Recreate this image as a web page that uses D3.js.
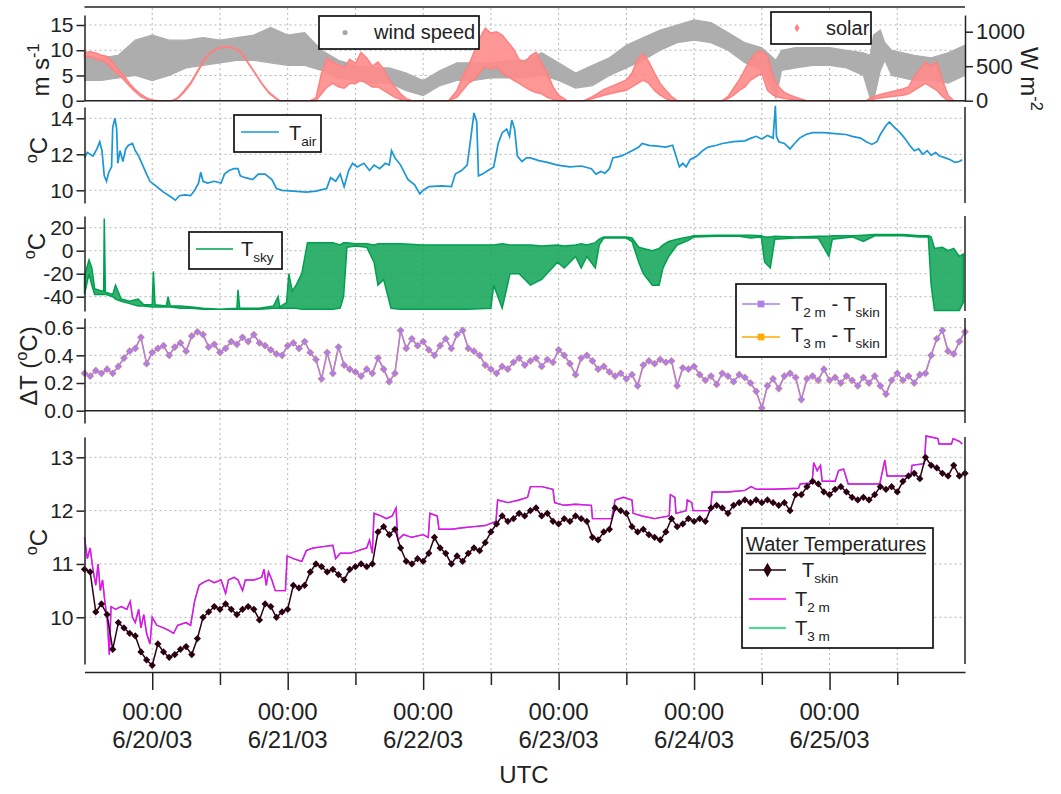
<!DOCTYPE html>
<html><head><meta charset="utf-8">
<script src="https://cdn.jsdelivr.net/npm/d3@7"></script>
<style>
body{margin:0;background:#fff;}
svg{display:block;font-family:"Liberation Sans",Arial,sans-serif;}
</style></head><body>
<svg id="c" width="1061" height="794"></svg>
<script>
// ---------- DATA (time in hours after 2003-06-19 12:00 UTC) ----------
const windT  = [0,3,6,9,12,15,18,21,24,27,30,33,36,39,42,45,48,51,54,57,60,63,66,69,72,75,78,81,84,87,90,93,96,99,102,105,108,111,114,117,120,121.5,122.5,123.5,126,129,132,135,138,139.2,139.8,141,141.8,143,147,150,153,156];
const windLo = [4,4,4.5,5,4,5,6.5,7,7.5,8,8,7.5,7,7,6,4.5,4,3.5,3.5,2,1,3,4,4,4.5,4.5,4.5,5,4,2.5,3,5,6.5,8,10,11.5,12,11.5,10,7.5,6,3,0.5,6,6.5,7,7,6.5,5,0.5,0,6,8,5,4,4,3.5,5];
const windHi = [9,8.5,9,12,13,12,12,12.5,12,12.5,13,14.5,13,13.5,10,8,7,6.5,6.5,5.5,4,6,7.5,7.5,7.5,8,8,9.5,7.5,5.5,7,8.5,11,12.5,14,15,16,15.5,13.5,11.5,10.5,9,8,10,10.5,10.5,10.5,10,9.5,9,13,14,11.5,10,9,8.5,9.5,11];

const solarT  = [0,1,2,3,4,5,6,7,8,9,10,11,12,13, 15.5,16.5,17.6,18.8,20,21.2,22.4,23.6,25,26.6,27.8,29,30.2,31.4,32.7,33.9,34.6, 40,41,42,43,44,45,46,47,48,49,50,51,52,53,54,55,56,57,58, 64.5,66,67,68,69,70,71,72,73,74,75,76,77,78,79,80,81,82,83,84,85.5, 88.5,90,92,94,96,97,98,99,100,101,102,103,104,105, 113,114,115,116,117,118,119,120,121,122,123,124,125,126,127,128, 138.5,139.5,141,143,145,146,147,148,149,150,151,152,153,154,156];
const solarLo = [620,640,600,580,540,450,380,300,210,130,60,20,0,0, 0,30,120,240,410,580,700,755,778,755,690,540,395,245,110,30,0, 0,0,100,200,250,200,180,250,250,300,250,200,200,150,100,50,20,0,0, 0,50,150,250,300,400,500,450,500,400,350,300,250,200,150,120,100,50,20,0,0, 0,30,80,120,150,200,250,300,250,150,80,30,0,0, 0,30,80,150,200,300,350,400,150,80,50,30,20,10,0,0, 0,20,40,60,80,100,150,200,250,200,150,60,0,0,0];
const solarHi = [700,710,690,660,640,560,450,360,250,160,90,40,10,0, 0,40,140,260,430,600,710,765,785,765,700,550,405,255,120,40,0, 0,40,400,620,560,520,480,600,540,700,620,500,560,460,300,200,100,30,0, 0,150,350,500,700,900,1050,980,1000,950,850,750,600,550,650,700,550,400,200,80,0, 0,60,160,230,300,400,600,680,560,400,250,150,60,0, 0,60,180,300,450,600,700,720,650,350,200,120,80,50,20,0, 0,50,90,130,170,200,350,450,560,500,560,300,80,0,0];

const airT = [0,0.5,1.5,2.2,2.7,3.1,3.5,3.9,4.3,4.8,5.0,5.4,5.7,5.9,6.3,6.8,7.3,7.8,8.5,9.0,9.6,10.3,11.0,11.6,12.4,13.2,14.0,15.0,16.1,16.8,17.8,18.8,19.5,20.2,20.6,21.0,21.8,23.0,24.2,24.8,25.6,26.5,27.2,27.6,28.5,29.8,30.8,32.0,33.2,34.0,35.0,37.0,39.3,41.0,42.9,43.6,44.5,45.3,46.0,46.8,47.5,48.3,49.5,50.5,51.3,52.3,53.3,54.0,54.4,55.0,56.0,57.3,58.5,59.4,60.0,61.0,63.3,65.0,65.7,66.8,67.8,68.4,69.0,69.5,69.8,70.5,71.5,72.5,73.3,74.0,74.8,75.3,75.7,76.2,76.7,77.5,78.3,79.0,80.5,82.0,83.8,86.0,88.0,89.8,90.6,91.5,92.2,93.0,93.6,95.0,95.8,97.0,98.2,98.8,100.0,101.5,103.0,104.2,104.8,105.4,106.0,106.6,107.3,108.5,109.5,110.5,112.0,113.0,115.0,117.0,118.1,119.0,120.0,121.0,122.0,122.4,122.6,123.0,124.0,125.0,125.8,126.7,127.8,129.0,131.0,133.0,134.9,136.0,137.5,138.5,139.5,140.4,141.0,142.0,142.6,143.5,144.5,145.3,146.2,147.0,147.8,148.5,149.3,150.0,150.8,151.5,152.5,153.4,154.2,155.0,155.5];
const airV = [11.8,12.1,11.9,12.3,12.7,12.2,10.8,10.5,11.0,11.3,13.5,14.0,13.4,11.5,12.2,11.6,12.3,12.5,12.6,12.2,11.9,11.4,10.9,10.5,10.3,10.1,9.9,9.7,9.45,9.7,9.75,9.7,10.0,10.4,11.0,10.5,10.4,10.5,10.4,10.9,11.1,11.2,11.2,10.8,10.7,10.6,10.9,10.9,10.6,10.1,10.0,9.95,9.9,9.95,10.1,10.7,10.5,10.9,10.2,11.1,11.5,11.3,11.5,11.1,11.4,11.2,11.5,11.4,12.2,11.8,11.4,10.6,10.3,9.8,10.0,10.2,10.25,10.2,10.9,11.1,11.4,12.8,14.3,13.8,10.8,10.9,11.1,11.3,12.6,13.2,13.4,13.0,13.9,13.4,11.9,11.6,11.8,11.8,11.65,11.55,11.4,11.3,11.35,11.2,10.9,11.05,10.95,11.2,11.8,11.9,12.0,12.2,12.4,12.6,12.5,12.45,12.4,12.5,11.9,11.3,11.5,11.3,11.7,11.9,12.2,12.4,12.5,12.6,12.7,12.75,12.9,13.0,12.85,13.05,12.9,14.7,13.0,12.7,12.6,12.3,12.6,12.9,13.1,13.2,13.2,13.15,13.1,13.0,12.9,12.7,12.55,12.7,13.1,13.6,13.8,13.5,13.2,12.9,12.5,12.2,12.3,12.0,12.2,11.95,12.1,11.9,11.8,11.7,11.55,11.6,11.7];

const skyT  = [0,0.8,1.3,1.8,3.0,3.4,3.5,3.7,5.0,5.5,6.5,8,9.5,10.5,12,12.2,12.5,14.5,14.8,15.2,17,19,21,24,27,27.2,27.5,31,33.5,34.3,34.6,35.8,36.2,36.8,37.5,38.5,39.5,42,44,45.3,45.9,46.5,48,50,51.3,52,53,54.3,56,60,64,68,72,72.5,74,75.4,77,79,81,83.8,85,87,88,89,90.5,91.2,92,96,97,98.2,99,100.6,101.8,102.5,103.5,105,107,108,112,116,118,119.9,120.5,121.5,122.3,126,130,131.9,132.5,136,138,140,145,148,149.5,150,150.6,152,153,154,155,155.7];
const skyLo = [-38,-20,-30,-38,-38,-38,-38,-38,-40,-42,-44,-46,-48,-48,-49,-49,-49,-49,-49,-49,-50,-50,-51,-51,-51,-51,-51,-51,-50,-50,-50,-50,-50,-50,-50,-51,-51,-51,-51,-50,-40,3,4,3,-10,-30,-25,-50,-51,-51,-51,-51,-50,-30,-50,-20,-20,-30,-25,-10,-15,-5,-15,-5,-15,5,11,11,8,-10,-20,-30,-30,-15,-5,5,9,12,12.5,12.5,11,12,-10,-15,10,11,11,-5,10,12,8,13,13,12,12,-30,-52,-52,-52,-52,-52,-45];
const skyHi = [-22,-8,-15,-33,-35,-35,28,-36,-38,-30,-42,-44,-42,-47,-47,-18,-47,-48,-40,-48,-48,-49,-50,-51,-50,-34,-50,-50,-48,-40,-49,-45,-20,-35,-30,-20,7,7,7,5,7,7,6,6,5,6,6,6,6,5,5,5,5,5,6,5,5,5,4,5,4,5,6,5,7,10,12,12,11,3,2,0,2,5,8,10,12,13,13.5,13.5,13.5,13,12,12,12.5,12,12.5,12.5,13,13,13.5,14,14,13,13,12,2,3,0,2,-5,-3];

// hourly series (hour 0 .. 156)
const dT2m = [0.27,0.25,0.29,0.27,0.30,0.27,0.32,0.38,0.43,0.45, 0.53,0.34,0.42,0.45,0.47,0.40,0.46,0.49,0.43,0.54, 0.57,0.55,0.46,0.48,0.42,0.45,0.50,0.48,0.53,0.50, 0.55,0.49,0.47,0.44,0.41,0.40,0.47,0.49,0.45,0.50, 0.42,0.37,0.23,0.42,0.27,0.46,0.33,0.30,0.28,0.25, 0.30,0.27,0.38,0.30,0.21,0.27,0.58,0.45,0.52,0.47, 0.50,0.44,0.40,0.47,0.52,0.45,0.55,0.58,0.45,0.43, 0.40,0.33,0.30,0.27,0.32,0.30,0.35,0.38,0.33,0.36, 0.38,0.32,0.37,0.35,0.44,0.40,0.34,0.26,0.38,0.40, 0.36,0.30,0.32,0.28,0.25,0.27,0.23,0.26,0.18,0.33, 0.36,0.34,0.37,0.35,0.36,0.18,0.31,0.30,0.32,0.26, 0.22,0.25,0.19,0.27,0.25,0.21,0.26,0.24,0.20,0.14, 0.02,0.18,0.23,0.16,0.25,0.27,0.24,0.08,0.23,0.25, 0.22,0.30,0.22,0.24,0.20,0.25,0.22,0.18,0.24,0.20, 0.25,0.18,0.12,0.22,0.27,0.22,0.25,0.20,0.26,0.27, 0.40,0.52,0.58,0.43,0.41,0.50,0.57];
const dT3m = [0.27,0.25,0.29,0.27,0.30,0.27,0.32,0.38,0.43,0.45, 0.53,0.34,0.42,0.45,0.47,0.40,0.46,0.49,0.43,0.54, 0.57,0.55,0.46,0.48,0.42,0.45,0.50,0.48,0.53,0.50, 0.55,0.49,0.47,0.44,0.41,0.40,0.47,0.49,0.45,0.50, 0.42,0.37,0.23,0.42,0.27,0.46,0.33,0.30,0.28,0.25, 0.30,0.27,0.38,0.30,0.21,0.27,0.58,0.45,0.52,0.47, 0.50,0.44,0.40,0.47,0.52,0.45,0.55,0.58,0.45,0.43, 0.40,0.33,0.30,0.27,0.32,0.30,0.35,0.38,0.33,0.36, 0.38,0.32,0.37,0.35,0.44,0.40,0.34,0.26,0.38,0.40, 0.36,0.30,0.32,0.28,0.25,0.27,0.23,0.26,0.18,0.33, 0.36,0.34,0.37,0.35,0.36,0.18,0.31,0.30,0.32,0.26, 0.22,0.25,0.19,0.27,0.25,0.21,0.26,0.24,0.20,0.14, 0.02,0.18,0.23,0.16,0.25,0.27,0.24,0.08,0.23,0.25, 0.22,0.30,0.22,0.24,0.20,0.25,0.22,0.18,0.24,0.20, 0.25,0.18,0.12,0.22,0.27,0.22,0.25,0.20,0.26,0.27, 0.40,0.52,0.58,0.43,0.41,0.50,0.57];
const skinV = [10.9,10.85,10.1,10.25,10.05,9.4,9.9,9.8,9.7,9.65, 9.35,9.2,9.1,9.5,9.35,9.25,9.3,9.4,9.45,9.3, 9.6,10.0,10.1,10.2,10.15,10.25,10.15,10.05,10.15,10.2, 10.15,9.95,10.25,10.2,10.0,10.1,10.15,10.6,10.55,10.6, 10.85,11.0,10.95,10.85,10.9,10.8,10.7,10.9,10.95,11.0, 10.95,11.0,11.6,11.7,11.55,11.65,11.3,11.05,11.0,11.1, 11.05,11.2,11.5,11.3,11.2,11.0,11.15,11.05,11.2,11.3, 11.25,11.4,11.6,11.75,11.9,11.8,11.85,11.95,11.9,12.0, 12.05,11.9,11.95,11.8,11.75,11.85,11.8,11.9,11.85,11.8, 11.5,11.45,11.6,11.65,12.05,12.0,11.95,11.7,11.6,11.65, 11.55,11.5,11.45,11.6,11.85,11.7,11.75,11.85,11.8,11.85, 11.8,12.05,12.1,12.05,11.95,12.1,12.15,12.2,12.15,12.2, 12.15,12.2,12.15,12.1,12.15,12.0,12.3,12.3,12.45,12.55, 12.5,12.35,12.3,12.4,12.45,12.35,12.25,12.2,12.25,12.2, 12.3,12.45,12.4,12.45,12.35,12.55,12.65,12.7,12.6,13.0, 12.85,12.8,12.7,12.65,12.85,12.65,12.7];

const t2T = [0,0.5,1,1.5,2,2.4,2.8,3.2,3.6,4.0,4.4,4.7,5.5,6.5,7.5,8.1,8.5,9.0,9.6,10.0,10.5,11.0,11.6,12.0,12.8,14,15,15.8,16.5,18,18.8,19.5,20.3,21,22,23,24.2,25,25.5,26.5,27.2,28,28.5,30,31.4,31.8,32.2,32.6,33.2,33.8,35.6,35.9,37,38.5,39.3,40.5,42,44,44.5,45.3,47,48.5,50,50.5,51.0,51.3,52.5,53.5,54.5,55.2,55.5,56.5,58,60,60.9,61.2,62.5,62.8,65,67,69,71,72.9,73.2,75,77,78.5,79,81,83,83.3,85,87,89.8,90,93.4,94,95.5,97,97.2,98.8,101,103.6,103.8,104.6,104.8,106.6,106.8,107.6,107.8,110.9,111.2,114,117,118.1,119,122,126.5,126.8,128.9,129.2,129.8,130.4,130.7,133,133.6,134.5,135.3,138,140.9,141.2,141.8,142.2,144,146.4,146.6,148.8,149.1,151.2,151.4,153.6,153.9,155,155.5];
const t2V = [11.5,11.1,11.3,10.9,10.6,11.0,10.5,10.7,10.3,10.0,9.3,10.2,10.15,10.2,10.15,10.3,10.0,9.9,10.15,9.8,10.05,9.7,9.5,10.0,9.85,9.8,9.75,9.7,9.85,9.9,9.85,10.3,10.6,10.65,10.7,10.65,10.7,10.45,10.7,10.75,10.7,10.5,10.7,10.7,10.75,10.9,10.6,10.85,10.7,10.5,10.5,11.15,11.1,11.05,11.25,11.3,11.32,11.35,11.1,11.2,11.2,11.25,11.3,11.45,11.2,11.95,11.9,11.85,11.9,12.05,11.45,11.55,11.5,11.55,11.5,11.95,11.9,11.65,11.65,11.68,11.7,11.72,11.8,12.2,12.15,12.2,12.25,12.45,12.45,12.4,12.15,12.1,12.12,12.1,11.85,11.85,12.2,12.25,12.2,11.95,11.9,11.85,11.9,12.3,12.25,11.95,12.0,12.2,12.15,12.0,12.0,12.35,12.35,12.38,12.45,12.4,12.4,12.42,12.5,12.52,12.9,12.75,12.85,12.55,12.55,12.75,12.78,12.5,12.5,12.5,12.65,12.95,12.65,12.65,12.65,12.85,12.88,13.4,13.35,13.25,13.25,13.35,13.3,13.25];
const t3T = [0,0.5,1,1.5,2,2.4,2.8,3.2,3.6,4.0,4.4,4.7,5.5,6.5,7.5,8.1,8.5,9.0,9.6,10.0,10.5,11.0,11.6,12.0,12.8,14,15,15.8,16.5,18,18.8,19.5,20.3,21,22,23,24.2,25,25.5,26.5,27.2,28,28.5,30,31.4,31.8,32.2,32.6,33.2,33.8,35.6,35.9,37,38.5,39.3,40.5,42,44,44.5,45.3,47,48.5,50,50.5,51.0,51.3,52.5,53.5,54.5,55.2,55.5,56.5,58,60,60.9,61.2,62.5,62.8,65,67,69,71,72.9,73.2,75,77,78.5,79,81,83,83.3,85,87,89.8,90,93.4,94,95.5,97,97.2,98.8,101,103.6,103.8,104.6,104.8,106.6,106.8,107.6,107.8,110.9,111.2,114,117,118.1,119,122,126.5,126.8,128.9,129.2,129.8,130.4,130.7,133,133.6,134.5,135.3,138,140.9,141.2,141.8,142.2,144,146.4,146.6,148.8,149.1,151.2,151.4,153.6,153.9,155,155.5];
const t3V = [11.5,11.1,11.3,10.9,10.6,11.0,10.5,10.7,10.3,10.0,9.3,10.2,10.15,10.2,10.15,10.3,10.0,9.9,10.15,9.8,10.05,9.7,9.5,10.0,9.85,9.8,9.75,9.7,9.85,9.9,9.85,10.3,10.6,10.65,10.7,10.65,10.7,10.45,10.7,10.75,10.7,10.5,10.7,10.7,10.75,10.9,10.6,10.85,10.7,10.5,10.5,11.15,11.1,11.05,11.25,11.3,11.32,11.35,11.1,11.2,11.2,11.25,11.3,11.45,11.2,11.95,11.9,11.85,11.9,12.05,11.45,11.55,11.5,11.55,11.5,11.95,11.9,11.65,11.65,11.68,11.7,11.72,11.8,12.2,12.15,12.2,12.25,12.45,12.45,12.4,12.15,12.1,12.12,12.1,11.85,11.85,12.2,12.25,12.2,11.95,11.9,11.85,11.9,12.3,12.25,11.95,12.0,12.2,12.15,12.0,12.0,12.35,12.35,12.38,12.45,12.4,12.4,12.42,12.5,12.52,12.9,12.75,12.85,12.55,12.55,12.75,12.78,12.5,12.5,12.5,12.65,12.95,12.65,12.65,12.65,12.85,12.88,13.4,13.35,13.25,13.25,13.35,13.3,13.25];

// tick values
const windTicks = [0,5,10,15], solarTicks = [0,500,1000];
const airTicks = [10,12,14], skyTicks = [-40,-20,0,20];
const dTTicks = [0.0,0.2,0.4,0.6], waterTicks = [10,11,12,13];
const majorHours = [12,36,60,84,108,132], minorHours = [24,48,72,96,120,144];

// ---------- CHART ----------
const svg = d3.select("#c");
const T0 = Date.UTC(2003,5,19,12);
const toDate = h => new Date(T0 + h*3600e3);
const X0 = 84.5, X1 = 965, AXY = 672;
const x = d3.scaleUtc().domain([toDate(0), toDate(156)]).range([X0, X1]);
const xh = h => x(toDate(h));
const INK = "#222";
const FONT = '"Liberation Sans", Arial, sans-serif';

const yWind  = d3.scaleLinear().domain([0,16.98]).range([100.7,15]);
const ySolar = d3.scaleLinear().domain([0,1242]).range([100.7,15]);
const yAir   = d3.scaleLinear().domain([9.294,14.628]).range([203,107]);
const ySky   = d3.scaleLinear().domain([-52.43,30.17]).range([311,216]);
const yDT    = d3.scaleLinear().domain([-0.089,0.670]).range([423,318]);
const yWat   = d3.scaleLinear().domain([9.124,13.381]).range([664,437]);

// grid
const grid = svg.append("g").attr("stroke","#b4b4b4").attr("stroke-width",1).attr("stroke-dasharray","2,3");
grid.selectAll("line.v").data(majorHours.concat(minorHours)).join("line")
  .attr("x1",xh).attr("x2",xh).attr("y1",8).attr("y2",AXY);
function hgrid(scale, vals){
  grid.append("g").selectAll("line").data(vals).join("line")
    .attr("x1",X0).attr("x2",X1).attr("y1",d=>scale(d)).attr("y2",d=>scale(d));
}
hgrid(yWind,[5,10,15]); hgrid(yAir,airTicks); hgrid(ySky,skyTicks);
hgrid(yDT,[0.2,0.4,0.6]); hgrid(yWat,waterTicks);

// panel 1 : wind (band) + solar (band)
const band = (T,lo,hi,ys) => d3.area().x((d,i)=>xh(T[i])).y0((d,i)=>ys(lo[i])).y1((d,i)=>ys(hi[i]));
svg.append("path").datum(windT).attr("d",band(windT,windLo,windHi,yWind))
  .attr("fill","#adadad").attr("stroke","#adadad").attr("stroke-width",1.2);
svg.append("path").datum(solarT).attr("d",band(solarT,solarLo,solarHi,ySolar))
  .attr("fill","#ff8c8c").attr("fill-opacity",0.9).attr("stroke","#ff8080").attr("stroke-width",1.5);

// panel 2 : Tair
const line = (T,V,ys) => d3.line().x((d,i)=>xh(T[i])).y((d,i)=>ys(V[i]));
svg.append("path").datum(airT).attr("d",line(airT,airV,yAir))
  .attr("fill","none").attr("stroke","#1b96d6").attr("stroke-width",1.7);

// panel 3 : Tsky
svg.append("path").datum(skyT).attr("d",band(skyT,skyLo,skyHi,ySky))
  .attr("fill","#0ea355").attr("fill-opacity",0.85).attr("stroke","#00a050").attr("stroke-width",1.5);

// panel 4 : dT
const hours = d3.range(dT2m.length);
const rhomb = s => d3.symbol(d3.symbolSquare, s)();
function markedLine(V, ys, color, size){
  svg.append("path").datum(V).attr("d",d3.line().x((d,i)=>xh(hours[i])).y(d=>ys(d)))
    .attr("fill","none").attr("stroke",color).attr("stroke-width",1.5);
  svg.append("g").selectAll("path").data(V).join("path")
    .attr("d",rhomb(size)).attr("fill",color)
    .attr("transform",(d,i)=>`translate(${xh(hours[i])},${ys(d)}) rotate(45)`);
}
markedLine(dT3m, yDT, "#ffaa00", 30);
markedLine(dT2m, yDT, "#b07ee8", 26);

// panel 5 : water temperatures
svg.append("path").datum(t3T).attr("d",line(t3T,t3V,yWat)).attr("fill","none").attr("stroke","#00d868").attr("stroke-width",1.4);
svg.append("path").datum(t2T).attr("d",line(t2T,t2V,yWat)).attr("fill","none").attr("stroke","#ff00ff").attr("stroke-width",1.4);
markedLine(skinV, yWat, "#2b0012", 26);

// ---------- AXES ----------
function styleAxis(g, fs){
  g.attr("font-family",FONT).attr("font-size",fs);
  g.selectAll(".domain").attr("stroke",INK).attr("stroke-width",1.5);
  g.selectAll(".tick line").attr("stroke",INK).attr("stroke-width",1.5);
  g.selectAll(".tick text").attr("fill",INK);
}
function leftAxis(scale, ticks, fmt){
  const g = svg.append("g").attr("transform",`translate(${X0},0)`)
    .call(d3.axisLeft(scale).tickValues(ticks).tickFormat(fmt).tickSize(8).tickSizeOuter(0).tickPadding(3));
  styleAxis(g, 21);
}
const plain = d => String(d);
leftAxis(yWind, windTicks, plain);
leftAxis(yAir, airTicks, plain);
leftAxis(ySky, skyTicks, plain);
leftAxis(yDT, dTTicks, d3.format(".1f"));
leftAxis(yWat, waterTicks, plain);

const gr = svg.append("g").attr("transform",`translate(${X1},0)`)
  .call(d3.axisRight(ySolar).tickValues(solarTicks).tickFormat(plain).tickSize(8).tickSizeOuter(0).tickPadding(3));
styleAxis(gr, 22);

// frame lines
const frame = svg.append("g").attr("stroke",INK).attr("stroke-width",1.5);
frame.append("line").attr("x1",X0).attr("x2",X1).attr("y1",7).attr("y2",7);
frame.append("line").attr("x1",X0).attr("x2",X1).attr("y1",yWind(0)).attr("y2",yWind(0));
frame.append("line").attr("x1",X0).attr("x2",X1).attr("y1",yDT(0)).attr("y2",yDT(0));
[yAir,ySky,yDT,yWat].forEach(s=>{
  const r = s.range();
  frame.append("line").attr("x1",X1).attr("x2",X1).attr("y1",r[0]).attr("y2",r[1]);
});

// bottom axis
const gx = svg.append("g").attr("transform",`translate(0,${AXY})`)
  .call(d3.axisBottom(x).tickValues(majorHours.map(toDate)).tickSize(18).tickSizeOuter(0).tickFormat(""));
styleAxis(gx, 24);
const gm = svg.append("g").attr("transform",`translate(0,${AXY})`)
  .call(d3.axisBottom(x).tickValues(minorHours.map(toDate)).tickSize(13).tickSizeOuter(0).tickFormat(""));
styleAxis(gm, 24); gm.select(".domain").remove();
const fTime = d3.utcFormat("%H:%M"), fDate = d3.utcFormat("%-m/%d/%y");
const xl = svg.append("g").attr("font-family",FONT).attr("font-size",24).attr("fill",INK).attr("text-anchor","middle");
majorHours.forEach(h=>{
  xl.append("text").attr("x",xh(h)).attr("y",720).text(fTime(toDate(h)));
  xl.append("text").attr("x",xh(h)).attr("y",748).text(fDate(toDate(h)));
});
xl.append("text").attr("x",524).attr("y",783).text("UTC");

// rich text helper
function rich(parent, x0, y0, parts, fs){
  const t = parent.append("text").attr("x",x0).attr("y",y0).attr("font-size",fs)
    .attr("font-family",FONT).attr("fill",INK).style("white-space","pre");
  let cur = 0;
  parts.forEach(([s,k])=>{
    const target = k==="sub" ? fs*0.32 : k==="sup" ? -fs*0.42 : 0;
    t.append("tspan").attr("dy",target-cur).attr("font-size", k==="n" ? fs : fs*0.68).text(s);
    cur = target;
  });
  return t;
}
// axis titles
rich(svg,0,0,[["m s","n"],["-1","sup"]],24).attr("text-anchor","middle").attr("transform","translate(49,70) rotate(-90)");
rich(svg,0,0,[["o","sup"],["C","n"]],24).attr("text-anchor","middle").attr("transform","translate(47,150) rotate(-90)");
rich(svg,0,0,[["o","sup"],["C","n"]],24).attr("text-anchor","middle").attr("transform","translate(45,246) rotate(-90)");
rich(svg,0,0,[["ΔT (","n"],["o","sup"],["C)","n"]],24).attr("text-anchor","middle").attr("transform","translate(37,366) rotate(-90)");
rich(svg,0,0,[["o","sup"],["C","n"]],24).attr("text-anchor","middle").attr("transform","translate(47,542) rotate(-90)");
rich(svg,0,0,[["W m","n"],["-2","sup"]],24).attr("text-anchor","start").attr("transform","translate(1021,47) rotate(90)");

// ---------- LEGENDS ----------
const lg = svg.append("g");
function box(x0,y0,w,h){ lg.append("rect").attr("x",x0).attr("y",y0).attr("width",w).attr("height",h)
  .attr("fill","#fff").attr("stroke","#111").attr("stroke-width",1.7); }
function sample(x1,x2,y,color,sym){
  lg.append("line").attr("x1",x1).attr("x2",x2).attr("y1",y).attr("y2",y).attr("stroke",color).attr("stroke-width",1.7);
  if(sym) lg.append("path").attr("d",sym).attr("fill",color).attr("transform",`translate(${(x1+x2)/2},${y})`);
}
box(319,16,160,33);
lg.append("circle").attr("cx",345).attr("cy",32.5).attr("r",2.6).attr("fill","#a8a8a8");
rich(lg,374,39,[["wind speed","n"]],20);

box(771,12,100,32);
lg.append("path").attr("d",d3.symbol(d3.symbolDiamond,22)()).attr("fill","#ff8080").attr("transform","translate(797,28)");
rich(lg,826,35,[["solar","n"]],20);

box(234,115,87,37);
sample(241,279,132,"#1b96d6");
rich(lg,289,140,[["T","n"],["air","sub"]],20);

box(189,232,93,37);
sample(196,233,249,"#00a050");
rich(lg,241,256,[["T","n"],["sky","sub"]],20);

box(736,284,150,73);
sample(742,780,304,"#b07ee8",d3.symbol(d3.symbolSquare,45)());
rich(lg,791,311,[["T","n"],["2 m","sub"],[" - T","n"],["skin","sub"]],20);
sample(742,780,337,"#ffaa00",d3.symbol(d3.symbolSquare,45)());
rich(lg,791,342,[["T","n"],["3 m","sub"],[" - T","n"],["skin","sub"]],20);

box(742,528,191,120);
const ttl = rich(lg,746,551,[["Water Temperatures","n"]],20);
const tw = ttl.node().getComputedTextLength();
lg.append("line").attr("x1",746).attr("x2",746+tw).attr("y1",553.5).attr("y2",553.5).attr("stroke",INK).attr("stroke-width",1.3);
sample(749,786,570,"#2b0012",d3.symbol(d3.symbolDiamond,60)());
rich(lg,802,577,[["T","n"],["skin","sub"]],20);
sample(749,786,599,"#ff00ff");
rich(lg,795,606,[["T","n"],["2 m","sub"]],20);
sample(749,786,628,"#00d868");
rich(lg,795,635,[["T","n"],["3 m","sub"]],20);
</script></body></html>
